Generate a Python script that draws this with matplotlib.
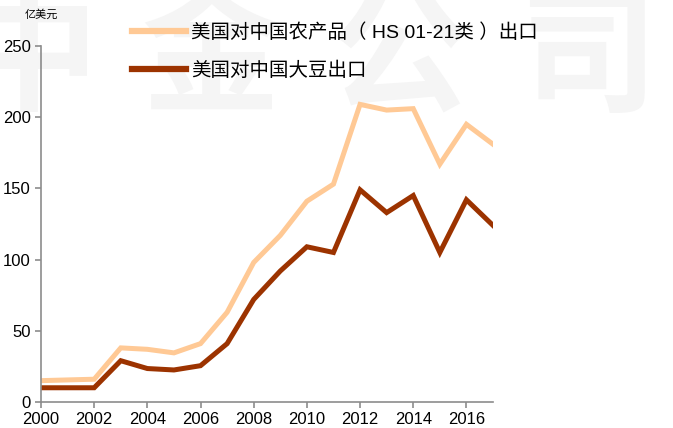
import matplotlib
matplotlib.use("Agg")
import matplotlib.pyplot as plt

plt.rcParams['font.family'] = ['Liberation Sans', 'Noto Sans CJK SC', 'DejaVu Sans']

# Data (亿美元)
years = list(range(2000, 2018))
agri = [15, 15.5, 16, 38, 37, 34.5, 41, 63, 98, 117, 141, 153, 209, 205, 206, 167, 195, 181]
soy = [10, 10, 10, 29, 23.5, 22.5, 25.5, 41, 72, 92, 109, 105, 149, 133, 145, 105, 142, 124]
labels = ['美国对中国农产品（ HS 01-21类 ）出口', '美国对中国大豆出口']
colors = ['#FFC995', '#9C3300']

fig = plt.figure(figsize=(6.73, 4.28), dpi=100)
ax = fig.add_axes([41/673, 1-402/428, (493-41)/673, (402-46)/428])
ax.set_zorder(1)

# watermark
for ch, x in [('中', -0.06), ('金', 0.21), ('公', 0.49), ('司', 0.77)]:
    fig.text(x, 0.86, ch, fontsize=100, color='#f5f5f5', family=['Noto Sans CJK SC'],
             fontweight='bold', ha='left', va='center', zorder=-5)

l1, = ax.plot(years, agri, color=colors[0], lw=3.6, solid_joinstyle='miter')
l2, = ax.plot(years, soy, color=colors[1], lw=3.6, solid_joinstyle='miter')

ax.set_xlim(2000, 2017)
ax.set_ylim(0, 250)
ax.set_xticks(range(2000, 2017, 2))
ax.set_yticks(range(0, 251, 50))
ax.patch.set_alpha(0)
for s in ['top', 'right']:
    ax.spines[s].set_visible(False)
for s in ['left', 'bottom']:
    ax.spines[s].set_color('#8c8c8c')
    ax.spines[s].set_linewidth(1.2)
ax.tick_params(colors='#8c8c8c', labelcolor='black', labelsize=12, length=4, width=1.2)

fig.text(25/673, 1-15/428, '亿美元', fontsize=8, family=['Noto Sans CJK SC'], va='center',
         fontweight='light')

leg = fig.legend([l1, l2], labels, loc='upper left', bbox_to_anchor=(114/673, 1-6/428),
                 frameon=False, handlelength=2.8, handletextpad=0.25, labelspacing=1.0,
                 prop={'family': ['Liberation Sans', 'Noto Sans CJK SC'], 'size': 14,
                       'weight': 'light'})
leg.set_zorder(2)
for h in leg.get_lines():
    h.set_linewidth(4.5)

fig.savefig('out.png', dpi=100)
